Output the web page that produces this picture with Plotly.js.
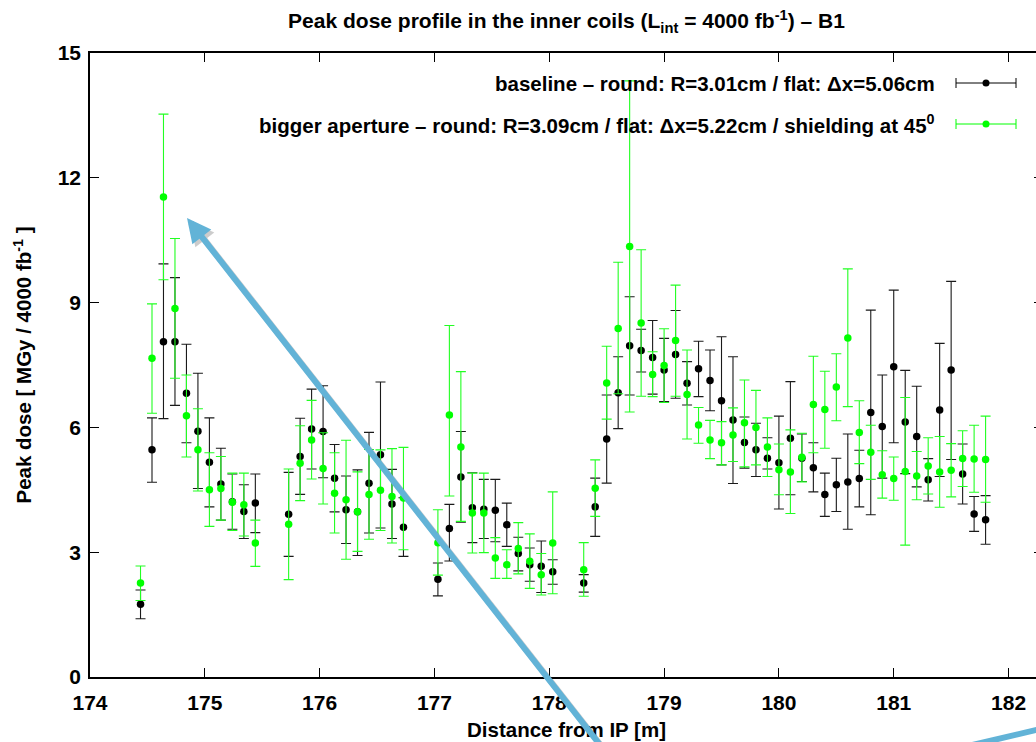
<!DOCTYPE html>
<html>
<head>
<meta charset="utf-8">
<script src="https://cdn.plot.ly/plotly-3.0.1.min.js"></script>
<style>
html,body{margin:0;padding:0;overflow:hidden;background:#fff;}
#chart{width:1043px;height:742px;}
</style>
</head>
<body>
<div id="chart"></div>
<script>
// Distance from IP [m]
const distance = [
  174.44,174.54,174.64,174.74,174.84,174.94,175.04,175.14,175.24,175.34,175.44,
  175.73,175.83,175.93,176.03,176.13,176.23,176.33,176.43,176.53,176.63,176.73,
  177.03,177.13,177.23,177.33,177.43,177.53,177.63,177.73,177.83,177.93,178.03,
  178.3,178.4,178.5,178.6,178.7,178.8,178.9,179.0,179.1,179.2,179.3,179.4,179.5,179.6,179.7,179.8,179.9,
  180.0,180.1,180.2,180.3,180.4,180.5,180.6,180.7,180.8,180.9,181.0,181.1,181.2,181.3,181.4,181.5,181.6,181.7,181.8
];

// baseline – peak dose and error-bar bounds [MGy / 4000 fb^-1]
const baselineDose = [
  1.75,5.46,8.06,8.06,6.82,5.91,5.16,4.64,4.21,3.98,4.18,
  3.91,5.30,5.96,5.90,4.78,4.02,3.97,4.66,5.34,4.16,3.60,
  2.35,3.57,4.81,4.07,4.03,4.01,3.66,2.97,2.70,2.66,2.53,
  2.26,4.09,5.72,6.83,7.96,7.85,7.68,7.38,7.75,7.06,7.41,7.13,6.64,6.18,5.64,5.46,5.26,
  5.15,5.74,5.26,5.03,4.39,4.62,4.69,4.77,6.36,6.02,7.46,6.13,5.78,4.74,6.42,7.38,4.88,3.92,3.78
];
const baselineHigh = [
  2.09,6.23,9.93,9.60,8.00,7.30,6.23,5.50,4.88,4.62,4.88,
  4.92,6.22,6.92,7.00,5.59,4.83,4.98,5.88,7.09,4.99,4.31,
  2.74,4.15,5.90,4.91,4.75,4.75,4.18,3.36,3.10,3.27,2.82,
  2.46,4.78,6.78,7.70,9.14,8.36,8.57,8.14,8.81,7.58,8.07,7.86,8.18,7.70,6.25,6.10,5.75,
  6.27,7.10,5.84,5.63,4.90,5.26,5.84,5.45,8.82,7.26,9.30,7.37,6.99,5.25,8.02,9.51,5.60,4.34,4.36
];
const baselineLow = [
  1.40,4.68,6.21,6.53,5.63,4.53,4.09,3.77,3.55,3.33,3.47,
  2.90,4.39,5.00,4.79,3.97,3.21,2.92,3.46,3.58,3.33,2.90,
  1.95,2.79,3.72,3.23,3.33,3.25,3.14,2.55,2.30,2.03,2.23,
  2.04,3.38,4.66,5.97,6.78,7.33,6.80,6.62,6.70,6.54,6.74,6.40,5.10,4.65,5.02,4.82,5.00,
  4.04,4.38,4.70,4.45,3.86,3.98,3.55,4.09,3.90,4.78,5.63,4.89,4.57,4.23,4.82,5.23,4.16,3.50,3.19
];

// bigger aperture – peak dose and error-bar bounds
const biggerDose = [
  2.26,7.66,11.54,8.86,6.28,5.46,4.50,4.53,4.20,4.14,3.22,
  3.67,5.14,5.70,5.01,4.42,4.26,3.97,4.39,4.49,4.34,4.30,
  3.23,6.30,5.53,3.94,3.94,2.86,2.70,3.09,2.78,2.46,3.22,
  2.58,4.54,7.07,8.38,10.35,8.51,7.27,7.49,8.09,6.79,6.06,5.70,5.63,5.82,6.11,6.00,5.53,
  4.98,4.93,5.28,6.55,6.43,6.97,8.15,5.88,5.40,4.86,4.77,4.94,4.83,5.07,4.93,4.97,5.25,5.24,5.23
];
const biggerHigh = [
  2.67,8.97,13.53,10.54,7.26,6.45,5.39,5.30,4.90,4.90,3.77,
  5.00,6.04,6.65,5.87,5.39,5.69,4.93,5.47,5.46,5.49,5.52,
  4.02,8.45,7.34,4.90,4.90,3.35,3.06,3.71,3.44,2.97,4.45,
  3.23,5.22,7.95,9.97,14.33,10.27,7.82,8.37,9.42,7.86,6.48,6.17,6.14,6.47,7.14,6.89,6.23,
  5.60,5.94,5.86,7.71,7.35,7.77,9.81,6.64,6.05,5.44,5.29,6.72,5.42,5.75,5.78,5.61,5.92,6.05,6.27
];
const biggerLow = [
  1.84,6.34,9.55,7.18,5.29,4.47,3.62,3.77,3.52,3.39,2.66,
  2.34,4.24,4.76,4.16,3.46,2.83,3.02,3.31,3.52,3.22,3.06,
  2.45,4.35,3.74,2.98,2.99,2.37,2.37,2.48,2.13,1.97,2.00,
  1.94,3.86,6.20,6.81,6.37,6.75,6.74,6.60,6.75,5.72,5.62,5.25,5.10,5.18,5.05,5.10,4.82,
  4.38,3.93,4.69,5.39,5.50,6.16,6.50,5.13,4.75,4.30,4.25,3.17,4.26,4.40,4.08,4.33,4.58,4.44,4.20
];

const seriesNames = [
  'baseline \u2013 round: R=3.01cm / flat: \u0394x=5.06cm',
  'bigger aperture \u2013 round: R=3.09cm / flat: \u0394x=5.22cm / shielding at 45<sup>0</sup>'
];
const yTicks = [0,3,6,9,12,15];
const xTicks = [174,175,176,177,178,179,180,181,182];

const FONT = 'Liberation Sans, Arial, Helvetica, sans-serif';
const BLUE = '#62b3d7';

function plus(v, hi){ return hi.map((h,i)=>+(h - v[i]).toFixed(3)); }
function minus(v, lo){ return lo.map((l,i)=>+(v[i] - l).toFixed(3)); }

function series(name, dose, hi, lo, color, barColor){
  return {
    type:'scatter', mode:'markers', name:name, showlegend:false,
    x: distance, y: dose,
    marker:{color:color, size:7.5},
    error_y:{type:'data', symmetric:false, array:plus(dose,hi), arrayminus:minus(dose,lo),
             color:barColor, thickness:1.1, width:5}
  };
}

const traces = [
  series(seriesNames[0], baselineDose, baselineHigh, baselineLow, '#000000', '#1a1a1a'),
  series(seriesNames[1], biggerDose, biggerHigh, biggerLow, '#00ff00', '#22ff22')
];

// plot-area pixel helpers for decorations (plot spans x 90..1043, y 53..677)
const L = 90, R = 1043, T = 53, B = 677;
const XMIN = 174, XMAX = 182.3, YMAX = 15;
const px = v => (v - L) / (R - L);
const py = v => (B - v) / (B - T);
const dx = v => XMIN + (v - L) / (R - L) * (XMAX - XMIN);
const dy = v => (B - v) / (B - T) * YMAX;

const rowY = [83, 124];
const legendColors = ['#000000', '#00ff00'];
const shapes = [];
const annotations = [];
rowY.forEach((yy, i) => {
  annotations.push({xref:'paper', yref:'paper', x:px(937), y:py(yy), xanchor:'right', yanchor:'middle',
    text:seriesNames[i], showarrow:false, font:{family:FONT, size:20.5, color:'#000', weight:'bold'}});
  const c = legendColors[i];
  shapes.push({type:'line', xref:'paper', yref:'paper', x0:px(956), x1:px(1016), y0:py(yy), y1:py(yy), line:{color:c, width:1}});
  shapes.push({type:'line', xref:'paper', yref:'paper', x0:px(956), x1:px(956), y0:py(yy-5), y1:py(yy+5), line:{color:c, width:1}});
  shapes.push({type:'line', xref:'paper', yref:'paper', x0:px(1016), x1:px(1016), y0:py(yy-5), y1:py(yy+5), line:{color:c, width:1}});
  shapes.push({type:'circle', xref:'paper', yref:'paper', x0:px(982.5), x1:px(989.5), y0:py(yy+3.5), y1:py(yy-3.5),
    fillcolor:c, line:{color:c, width:0}});
});

// overlay arrows (decoration)
const tip = [187, 218], tail = [615, 764];
annotations.push({xref:'x', yref:'y', axref:'x', ayref:'y', x:dx(tip[0]+3), y:dy(tip[1]+3), ax:dx(tail[0]+3), ay:dy(tail[1]+3),
  text:'', showarrow:true, arrowhead:2, arrowsize:0.8, arrowwidth:6, arrowcolor:'rgba(90,90,90,0.3)', standoff:0});
annotations.push({xref:'x', yref:'y', axref:'x', ayref:'y', x:dx(tip[0]), y:dy(tip[1]), ax:dx(tail[0]), ay:dy(tail[1]),
  text:'', showarrow:true, arrowhead:2, arrowsize:0.8, arrowwidth:6, arrowcolor:BLUE, standoff:0});
shapes.push({type:'line', xref:'paper', yref:'paper', x0:px(965), y0:py(746.7), x1:px(1043), y1:py(728.4),
  line:{color:BLUE, width:6}});

const axisCommon = {
  showline:true, linecolor:'#000', linewidth:1.8, mirror:'ticks',
  ticks:'inside', ticklen:9, tickwidth:1, tickcolor:'#000',
  showgrid:false, zeroline:false,
  tickfont:{family:FONT, size:21, color:'#000', weight:'bold'}
};

const layout = {
  width:1043, height:742,
  margin:{l:L, r:1043-R, t:T, b:742-B},
  paper_bgcolor:'#fff', plot_bgcolor:'#fff',
  font:{family:FONT, color:'#000', weight:'bold'},
  title:{text:'Peak dose profile in the inner coils (L<sub>int</sub> = 4000 fb<sup>-1</sup>) \u2013 B1',
    font:{family:FONT, size:21, color:'#000', weight:'bold'},
    xref:'paper', x:0.5, xanchor:'center', yref:'container', y:1-21/742, yanchor:'middle'},
  xaxis: Object.assign({}, axisCommon, {
    range:[XMIN, XMAX], tickvals:xTicks, ticktext:xTicks.map(String), ticklabelstandoff:6,
    title:{text:'Distance from IP [m]', font:{family:FONT, size:20.5, color:'#000', weight:'bold'}, standoff:10}
  }),
  yaxis: Object.assign({}, axisCommon, {
    range:[0, YMAX], tickvals:yTicks, ticktext:yTicks.map(String), ticklabelstandoff:3,
    title:{text:'Peak dose [ MGy / 4000 fb<sup>-1</sup> ]', font:{family:FONT, size:20.5, color:'#000', weight:'bold'}, standoff:20}
  }),
  shapes:shapes,
  annotations:annotations,
  showlegend:false
};

Plotly.newPlot('chart', traces, layout, {staticPlot:true, displayModeBar:false});
</script>
</body>
</html>
